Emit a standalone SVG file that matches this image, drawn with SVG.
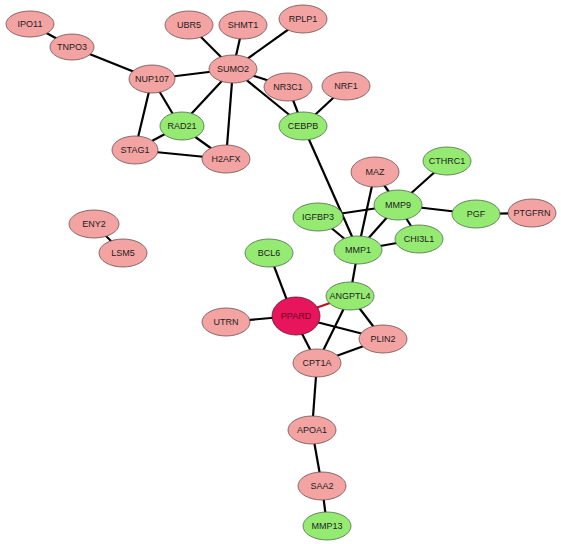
<svg xmlns="http://www.w3.org/2000/svg" width="561" height="544" viewBox="0 0 561 544">
<style>
.e{stroke:#000;stroke-width:2.2;fill:none}
.r{fill:#F4A3A3;stroke:#6b5050;stroke-width:0.8}
.g{fill:#95EB72;stroke:#4f6b4f;stroke-width:0.8}
.p{fill:#E8155C;stroke:#5a1030;stroke-width:0.8}
text{font-family:"Liberation Sans",Arial,sans-serif;font-size:9px;text-anchor:middle;dominant-baseline:central;fill:#222}
text.pt{fill:#6a0020}
</style>
<rect width="561" height="544" fill="#fff"/>
<g id="connectors">
<line class="e" x1="30" y1="24" x2="72" y2="47"/>
<line class="e" x1="72" y1="47" x2="152" y2="79"/>
<line class="e" x1="152" y1="79" x2="233" y2="69"/>
<line class="e" x1="152" y1="79" x2="180" y2="126"/>
<line class="e" x1="152" y1="79" x2="135" y2="150"/>
<line class="e" x1="180" y1="126" x2="135" y2="150"/>
<line class="e" x1="135" y1="150" x2="226" y2="159"/>
<line class="e" x1="180" y1="126" x2="226" y2="159"/>
<line class="e" x1="180" y1="126" x2="233" y2="69"/>
<line class="e" x1="233" y1="69" x2="226" y2="159"/>
<line class="e" x1="233" y1="69" x2="189" y2="25"/>
<line class="e" x1="233" y1="69" x2="243" y2="25"/>
<line class="e" x1="233" y1="69" x2="303" y2="19"/>
<line class="e" x1="233" y1="69" x2="288" y2="87"/>
<line class="e" x1="233" y1="69" x2="303" y2="126"/>
<line class="e" x1="288" y1="87" x2="303" y2="126"/>
<line class="e" x1="346" y1="86" x2="303" y2="126"/>
<line class="e" x1="303" y1="126" x2="358" y2="250"/>
<line class="e" x1="375" y1="172" x2="398" y2="205"/>
<line class="e" x1="375" y1="172" x2="358" y2="250"/>
<line class="e" x1="447" y1="161" x2="398" y2="205"/>
<line class="e" x1="318" y1="217" x2="398" y2="205"/>
<line class="e" x1="318" y1="217" x2="358" y2="250"/>
<line class="e" x1="398" y1="205" x2="476" y2="214"/>
<line class="e" x1="476" y1="214" x2="532" y2="213"/>
<line class="e" x1="398" y1="205" x2="419" y2="239"/>
<line class="e" x1="398" y1="205" x2="358" y2="250"/>
<line class="e" x1="419" y1="239" x2="358" y2="250"/>
<line class="e" x1="358" y1="250" x2="350" y2="296"/>
<line class="e" x1="269" y1="253" x2="293" y2="316"/>
<line x1="293" y1="316" x2="350" y2="296" stroke="#c01020" stroke-width="2.2"/>
<line class="e" x1="350" y1="296" x2="383" y2="339"/>
<line class="e" x1="350" y1="296" x2="317" y2="363"/>
<line class="e" x1="226" y1="322" x2="293" y2="316"/>
<line class="e" x1="293" y1="316" x2="383" y2="339"/>
<line class="e" x1="293" y1="316" x2="317" y2="363"/>
<line class="e" x1="383" y1="339" x2="317" y2="363"/>
<line class="e" x1="317" y1="363" x2="312" y2="430"/>
<line class="e" x1="312" y1="430" x2="322" y2="486"/>
<line class="e" x1="322" y1="486" x2="327" y2="526"/>
<line class="e" x1="94" y1="224" x2="123" y2="253"/>
</g>
<g id="IPO11"><ellipse class="r" cx="30" cy="24" rx="24" ry="13"/><text x="30" y="24">IPO11</text></g>
<g id="TNPO3"><ellipse class="r" cx="72" cy="47" rx="22" ry="13"/><text x="72" y="47">TNPO3</text></g>
<g id="NUP107"><ellipse class="r" cx="152" cy="79" rx="23" ry="14"/><text x="152" y="79">NUP107</text></g>
<g id="RAD21"><ellipse class="g" cx="182" cy="126" rx="22" ry="14"/><text x="182" y="126">RAD21</text></g>
<g id="STAG1"><ellipse class="r" cx="135" cy="150" rx="23" ry="14"/><text x="135" y="150">STAG1</text></g>
<g id="H2AFX"><ellipse class="r" cx="226" cy="159" rx="24" ry="14"/><text x="226" y="159">H2AFX</text></g>
<g id="UBR5"><ellipse class="r" cx="189" cy="25" rx="24" ry="14"/><text x="189" y="25">UBR5</text></g>
<g id="SHMT1"><ellipse class="r" cx="243" cy="25" rx="24" ry="14"/><text x="243" y="25">SHMT1</text></g>
<g id="RPLP1"><ellipse class="r" cx="303" cy="19" rx="24" ry="14"/><text x="303" y="19">RPLP1</text></g>
<g id="SUMO2"><ellipse class="r" cx="233" cy="69" rx="24" ry="14"/><text x="233" y="69">SUMO2</text></g>
<g id="NR3C1"><ellipse class="r" cx="288" cy="87" rx="24" ry="14"/><text x="288" y="87">NR3C1</text></g>
<g id="NRF1"><ellipse class="r" cx="346" cy="86" rx="24" ry="14"/><text x="346" y="86">NRF1</text></g>
<g id="CEBPB"><ellipse class="g" cx="303" cy="126" rx="24" ry="14"/><text x="303" y="126">CEBPB</text></g>
<g id="MAZ"><ellipse class="r" cx="375" cy="172" rx="24" ry="15"/><text x="375" y="172">MAZ</text></g>
<g id="CTHRC1"><ellipse class="g" cx="447" cy="161" rx="24" ry="14"/><text x="447" y="161">CTHRC1</text></g>
<g id="MMP9"><ellipse class="g" cx="398" cy="205" rx="24" ry="15"/><text x="398" y="205">MMP9</text></g>
<g id="IGFBP3"><ellipse class="g" cx="318" cy="217" rx="25" ry="14"/><text x="318" y="217">IGFBP3</text></g>
<g id="PGF"><ellipse class="g" cx="476" cy="214" rx="24" ry="14"/><text x="476" y="214">PGF</text></g>
<g id="PTGFRN"><ellipse class="r" cx="532" cy="213" rx="24" ry="14"/><text x="532" y="213">PTGFRN</text></g>
<g id="CHI3L1"><ellipse class="g" cx="419" cy="239" rx="24" ry="14"/><text x="419" y="239">CHI3L1</text></g>
<g id="MMP1"><ellipse class="g" cx="358" cy="250" rx="24" ry="14"/><text x="358" y="250">MMP1</text></g>
<g id="BCL6"><ellipse class="g" cx="269" cy="253" rx="24" ry="14"/><text x="269" y="253">BCL6</text></g>
<g id="ANGPTL4"><ellipse class="g" cx="350" cy="296" rx="24" ry="14"/><text x="350" y="296">ANGPTL4</text></g>
<g id="PPARD"><ellipse class="p" cx="296" cy="316" rx="24" ry="19"/><text class="pt" x="296" y="316">PPARD</text></g>
<g id="UTRN"><ellipse class="r" cx="226" cy="322" rx="24" ry="14"/><text x="226" y="322">UTRN</text></g>
<g id="PLIN2"><ellipse class="r" cx="383" cy="339" rx="24" ry="14"/><text x="383" y="339">PLIN2</text></g>
<g id="CPT1A"><ellipse class="r" cx="317" cy="363" rx="24" ry="14"/><text x="317" y="363">CPT1A</text></g>
<g id="APOA1"><ellipse class="r" cx="312" cy="430" rx="24" ry="14"/><text x="312" y="430">APOA1</text></g>
<g id="SAA2"><ellipse class="r" cx="322" cy="486" rx="24" ry="14"/><text x="322" y="486">SAA2</text></g>
<g id="MMP13"><ellipse class="g" cx="327" cy="526" rx="24" ry="14"/><text x="327" y="526">MMP13</text></g>
<g id="ENY2"><ellipse class="r" cx="94" cy="224" rx="25" ry="14"/><text x="94" y="224">ENY2</text></g>
<g id="LSM5"><ellipse class="r" cx="123" cy="253" rx="24" ry="14"/><text x="123" y="253">LSM5</text></g>
</svg>
